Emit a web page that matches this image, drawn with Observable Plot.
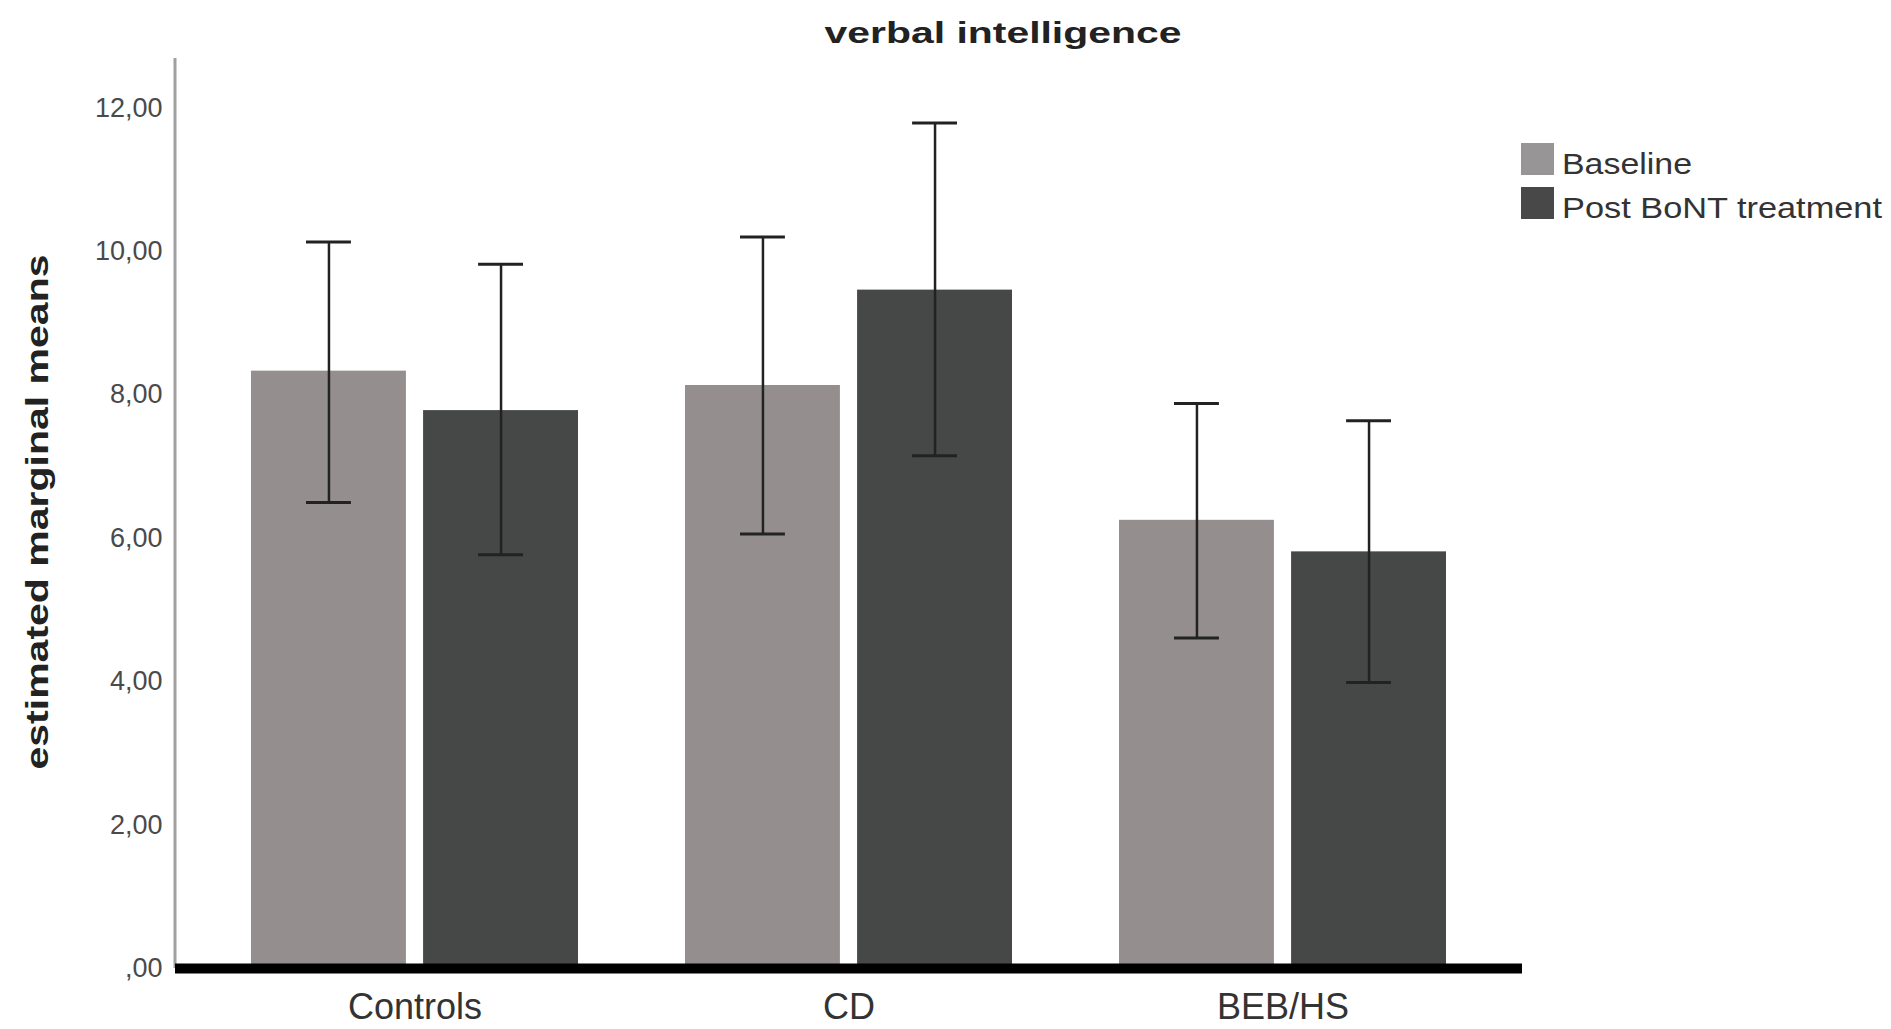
<!DOCTYPE html>
<html><head><meta charset="utf-8">
<script src="https://cdn.jsdelivr.net/npm/d3@7"></script>
<script src="https://cdn.jsdelivr.net/npm/@observablehq/plot@0.6"></script>
<style>
body{margin:0;background:#fff;font-family:"Liberation Sans",Arial,sans-serif;}
#wrap{position:relative;width:1891px;height:1029px;overflow:hidden;}
#wrap svg{position:absolute;left:0;top:0;}
</style></head><body><div id="wrap"></div>
<script>
// ---- data ----
const groups = ["Controls", "CD", "BEB/HS"];
const seriesNames = ["Baseline", "Post BoNT treatment"];
const baselineMean = [8.33, 8.13, 6.25];
const baselineLow  = [6.50, 6.06, 4.61];
const baselineHigh = [10.13, 10.20, 7.88];
const postMean = [7.78, 9.46, 5.81];
const postLow  = [5.77, 7.15, 3.99];
const postHigh = [9.82, 11.79, 7.64];
const yTicks = [0, 2, 4, 6, 8, 10, 12];
const titleText = "verbal intelligence";
const yLabelText = "estimated marginal means";

// ---- layout ----
const W = 1891, H = 1029;
const mL = 175, mR = 369, mT = 58, mB = 61;
const padIn = 0.247, padOut = 0.174;
const colBase = "#948f8e", colPost = "#464747";
const band = d3.scaleBand().domain(groups).range([mL, W - mR]).paddingInner(padIn).paddingOuter(padOut);
const bw = band.bandwidth();
const barW = 155;
const inset = bw - barW;
const off = bw / 2 - barW / 2;
const capHalf = 22.5;

const base = groups.map((g, i) => ({group: g, series: seriesNames[0], mean: baselineMean[i], low: baselineLow[i], high: baselineHigh[i]}));
const post = groups.map((g, i) => ({group: g, series: seriesNames[1], mean: postMean[i], low: postLow[i], high: postHigh[i]}));

const fmt = v => v === 0 ? ",00" : v.toFixed(2).replace(".", ",");
const errStroke = "#222";

const chart = Plot.plot({
  width: W, height: H,
  marginLeft: mL, marginRight: mR, marginTop: mT, marginBottom: mB,
  style: {fontFamily: '"Liberation Sans", Arial, sans-serif', background: "transparent"},
  x: {domain: groups, paddingInner: padIn, paddingOuter: padOut, label: null},
  y: {domain: [0, 12.69], label: null},
  marks: [
    Plot.barY(base, {x: "group", y: "mean", fill: colBase, insetRight: inset}),
    Plot.barY(post, {x: "group", y: "mean", fill: colPost, insetLeft: inset}),
    Plot.ruleX(base, {x: "group", y1: "low", y2: "high", dx: -off, stroke: errStroke, strokeWidth: 2.5}),
    Plot.ruleX(post, {x: "group", y1: "low", y2: "high", dx: off, stroke: errStroke, strokeWidth: 2.5}),
    Plot.tickY(base, {x: "group", y: "high", insetLeft: barW/2 - capHalf, insetRight: bw - barW/2 - capHalf, stroke: errStroke, strokeWidth: 3}),
    Plot.tickY(base, {x: "group", y: "low", insetLeft: barW/2 - capHalf, insetRight: bw - barW/2 - capHalf, stroke: errStroke, strokeWidth: 3}),
    Plot.tickY(post, {x: "group", y: "high", insetRight: barW/2 - capHalf, insetLeft: bw - barW/2 - capHalf, stroke: errStroke, strokeWidth: 3}),
    Plot.tickY(post, {x: "group", y: "low", insetRight: barW/2 - capHalf, insetLeft: bw - barW/2 - capHalf, stroke: errStroke, strokeWidth: 3}),
    Plot.ruleY([0], {stroke: "#000", strokeWidth: 10}),
    Plot.axisY({ticks: yTicks, tickFormat: fmt, tickSize: 0, tickPadding: 13, fontSize: 27, fill: "#4a4a4a", label: null}),
    Plot.axisX({tickSize: 0, tickPadding: 25, fontSize: 36, fill: "#333", label: null})
  ]
});
const wrap = document.getElementById("wrap");
wrap.appendChild(chart);

// y-axis line drawn from the plot's own y scale range
const yRange = chart.scale("y").range;
d3.select(chart).insert("line", ":first-child")
  .attr("x1", mL).attr("x2", mL)
  .attr("y1", Math.min(...yRange)).attr("y2", Math.max(...yRange))
  .attr("stroke", "#a0a0a0").attr("stroke-width", 3);

// ---- title, y label and legend (overlay text) ----
const ov = d3.select(wrap).append("svg").attr("width", W).attr("height", H)
  .style("font-family", '"Liberation Sans", Arial, sans-serif');
ov.append("text").attr("x", 1003).attr("y", 43).attr("text-anchor", "middle")
  .attr("font-weight", "bold").attr("font-size", 30).attr("fill", "#222")
  .attr("textLength", 357).attr("lengthAdjust", "spacingAndGlyphs").text(titleText);
ov.append("text").attr("transform", "translate(48,512) rotate(-90)").attr("text-anchor", "middle")
  .attr("font-weight", "bold").attr("font-size", 32).attr("fill", "#222")
  .attr("textLength", 515).attr("lengthAdjust", "spacingAndGlyphs").text(yLabelText);
const legLen = [130, 320];
seriesNames.forEach((s, i) => {
  const y0 = 143 + i * 44;
  ov.append("rect").attr("x", 1521).attr("y", y0).attr("width", 33).attr("height", 32).attr("fill", i === 0 ? "#979595" : "#484848");
  ov.append("text").attr("x", 1562).attr("y", y0 + 31).attr("font-size", 30).attr("fill", "#333")
    .attr("textLength", legLen[i]).attr("lengthAdjust", "spacingAndGlyphs").text(s);
});
</script>
</body></html>
